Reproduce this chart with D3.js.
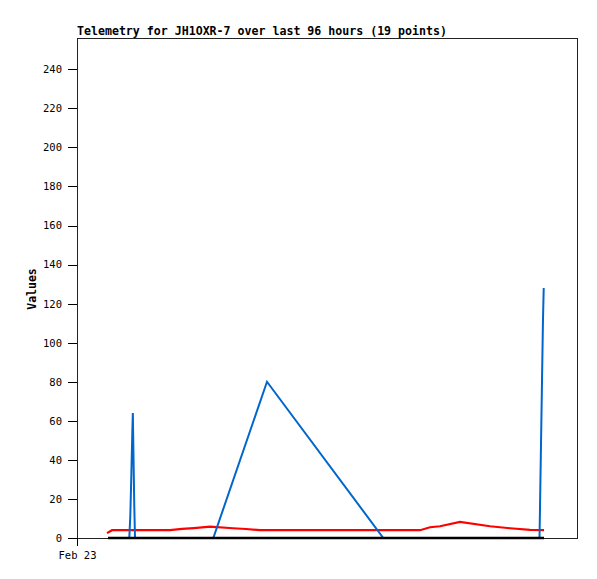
<!DOCTYPE html>
<html><head><meta charset="utf-8">
<script src="https://cdn.jsdelivr.net/npm/d3@7"></script>
<style>body{margin:0;background:#fff}svg{display:block}</style>
</head><body>
<script>
// hours after Feb 23 00:00
const blueHours = [5.95, 10.04, 10.23, 10.43, 10.62, 10.72, 10.81, 11.0, 11.14, 26.17, 36.48, 58.81, 88.8, 88.9, 89.09, 89.28, 89.47, 89.61];
const blueValues = [0, 0, 11, 32, 54, 64, 48, 16, 0, 0, 80, 0, 0, 16, 48, 80, 112, 128];
const redHours = [5.76, 6.72, 12.1, 17.86, 20.16, 22.46, 25.54, 29.95, 32.45, 35.14, 52.42, 65.86, 67.78, 69.7, 73.54, 79.3, 83.14, 86.98, 89.67];
const redValues = [2.5, 4, 4, 4, 4.7, 5.1, 5.8, 5, 4.6, 4, 4, 4, 5.5, 6, 8.2, 6, 5, 4.2, 4];
const blackHours = [5.95, 89.67];
const blackValues = [0, 0];
const yTicks = [0, 20, 40, 60, 80, 100, 120, 140, 160, 180, 200, 220, 240];
const xTickLabels = ["Feb 23"];

const W = 597, H = 579;
const m = {l: 77, r: 577, t: 38, b: 538};
const t0 = new Date(2024, 1, 23, 0, 0, 0);
const hr = h => new Date(t0.getTime() + h * 3600e3);

const svg = d3.select("body").append("svg").attr("width", W).attr("height", H);
const x = d3.scaleTime().domain([t0, hr(96)]).range([m.l, m.r]);
const y = d3.scaleLinear().domain([0, 256]).range([m.b, m.t]);

const mono = "'DejaVu Sans Mono', 'Liberation Mono', monospace";

// frame
svg.append("rect").attr("x", m.l + 0.5).attr("y", m.t + 0.5)
  .attr("width", m.r - m.l).attr("height", m.b - m.t)
  .attr("fill", "none").attr("stroke", "#222").attr("stroke-width", 1)
  .attr("shape-rendering", "crispEdges");

// y axis
const ya = svg.append("g").attr("transform", `translate(${m.l},0)`)
  .call(d3.axisLeft(y).tickValues(yTicks).tickSize(9).tickPadding(6));
ya.select(".domain").remove();
ya.selectAll("line").attr("stroke", "#000").attr("shape-rendering", "crispEdges");
ya.selectAll("text").attr("font-family", mono).attr("font-size", "10.5px").attr("fill", "#000");

// x axis
const xa = svg.append("g").attr("transform", `translate(0,${m.b})`)
  .call(d3.axisBottom(x).tickValues([t0]).tickSize(8).tickPadding(6)
    .tickFormat((d, i) => xTickLabels[i]));
xa.select(".domain").remove();
xa.selectAll("line").attr("stroke", "#000").attr("shape-rendering", "crispEdges");
xa.selectAll("text").attr("font-family", mono).attr("font-size", "10.5px").attr("fill", "#000");

const line = d3.line().x(d => x(hr(d[0]))).y(d => y(d[1]));
function draw(hours, vals, color, w) {
  svg.append("path").datum(hours.map((h, i) => [h, vals[i]]))
    .attr("d", line).attr("fill", "none").attr("stroke", color)
    .attr("stroke-width", w).attr("stroke-linejoin", "miter");
}
draw(redHours, redValues, "#ff0000", 2.2);
draw(blueHours, blueValues, "#0066cc", 2);
draw(blackHours, blackValues, "#000", 2.5);

// title
svg.append("text").attr("x", m.l).attr("y", 35)
  .attr("font-family", mono).attr("font-weight", "bold").attr("font-size", "11.6px")
  .text("Telemetry for JH1OXR-7 over last 96 hours (19 points)");

// y label
svg.append("text").attr("transform", `translate(36,289) rotate(-90)`)
  .attr("text-anchor", "middle")
  .attr("font-family", mono).attr("font-weight", "bold").attr("font-size", "11.5px")
  .text("Values");
</script>
</body></html>
